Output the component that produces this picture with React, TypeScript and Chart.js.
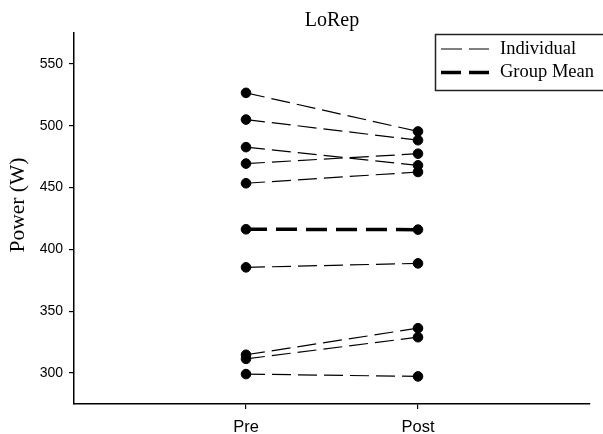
import React, { useEffect, useRef } from "react";
import { Chart, registerables } from "chart.js";

Chart.register(...registerables);

const TITLE = "LoRep";
const Y_TITLE = "Power (W)";
const CATEGORIES = ["Pre", "Post"];
const CATEGORY_X = [1, 2];
const Y_TICKS = [300, 350, 400, 450, 500, 550];
const PRE = [526.6, 505.0, 482.7, 469.4, 453.5, 385.5, 314.8, 311.5, 299.2];
const POST = [495.4, 488.3, 468.0, 477.4, 462.6, 388.7, 336.3, 329.0, 297.3];
const MEAN = [416.3, 416.0];
const LEGEND_LABELS = ["Individual", "Group Mean"];

const SERIF = "'Liberation Serif', 'Times New Roman', serif";
const SANS = "'Liberation Sans', Arial, sans-serif";

const legendPlugin = {
  id: "boxLegend",
  afterDraw(chart: any) {
    const ctx = chart.ctx;
    ctx.save();
    ctx.strokeStyle = "#222";
    ctx.lineWidth = 1.5;
    ctx.setLineDash([]);
    ctx.strokeRect(435.5, 34.5, 200, 56);
    const rows = [
      { y: 49, w: 1.2, dash: [21, 7] },
      { y: 72.5, w: 3.5, dash: [20, 8] },
    ];
    rows.forEach((r, i) => {
      ctx.beginPath();
      ctx.lineWidth = r.w;
      ctx.setLineDash(r.dash);
      ctx.strokeStyle = "#000";
      ctx.moveTo(441, r.y);
      ctx.lineTo(489, r.y);
      ctx.stroke();
      ctx.setLineDash([]);
      ctx.fillStyle = "#000";
      ctx.font = `18.5px ${SERIF}`;
      ctx.textBaseline = "middle";
      ctx.textAlign = "left";
      ctx.fillText(LEGEND_LABELS[i], 500, r.y);
    });
    ctx.restore();
  },
};

const yTitlePlugin = {
  id: "yTitle",
  afterDraw(chart: any) {
    const ctx = chart.ctx;
    ctx.save();
    ctx.translate(18, 205);
    ctx.rotate(-Math.PI / 2);
    ctx.fillStyle = "#000";
    ctx.font = `21.5px ${SERIF}`;
    ctx.textAlign = "center";
    ctx.textBaseline = "middle";
    ctx.fillText(Y_TITLE, 0, 0);
    ctx.restore();
  },
};

export default function App() {
  const ref = useRef<HTMLCanvasElement | null>(null);
  useEffect(() => {
    document.body.style.margin = "0";
    document.body.style.overflow = "hidden";
    const datasets: any[] = PRE.map((p, i) => ({
      label: LEGEND_LABELS[0],
      data: [
        { x: CATEGORY_X[0], y: p },
        { x: CATEGORY_X[1], y: POST[i] },
      ],
      borderColor: "#000",
      borderWidth: 1.2,
      borderDash: [19, 7],
      pointRadius: 4.8,
      pointBackgroundColor: "#000",
      pointBorderColor: "#000",
      pointBorderWidth: 1,
      showLine: true,
    }));
    datasets.push({
      label: LEGEND_LABELS[1],
      data: [
        { x: CATEGORY_X[0], y: MEAN[0] },
        { x: CATEGORY_X[1], y: MEAN[1] },
      ],
      borderColor: "#000",
      borderWidth: 3.5,
      borderDash: [21, 9],
      pointRadius: 4.8,
      pointBackgroundColor: "#000",
      pointBorderColor: "#000",
      pointBorderWidth: 1,
      showLine: true,
    });
    const chart = new Chart(ref.current as HTMLCanvasElement, {
      type: "scatter",
      data: { datasets },
      plugins: [legendPlugin, yTitlePlugin],
      options: {
        animation: false,
        responsive: false,
        layout: { padding: { left: 0, right: 13, top: 0, bottom: 0 } },
        plugins: {
          legend: { display: false },
          tooltip: { enabled: false },
          title: {
            display: true,
            text: TITLE,
            fullSize: false,
            color: "#000",
            font: { family: SERIF, size: 20, weight: "normal" },
            padding: { top: 9, bottom: 0 },
          },
        },
        scales: {
          x: {
            type: "linear",
            min: 0,
            max: 3,
            afterFit(scale: any) {
              scale.height = 30;
            },
            afterBuildTicks(scale: any) {
              scale.ticks = CATEGORY_X.map((v) => ({ value: v }));
            },
            ticks: {
              color: "#000",
              font: { family: SANS, size: 16.5 },
              padding: 9,
              maxRotation: 0,
              callback: (v: any) => {
                const idx = CATEGORY_X.indexOf(Number(v));
                return idx >= 0 ? CATEGORIES[idx] : "";
              },
            },
            grid: {
              display: true,
              drawOnChartArea: false,
              drawTicks: true,
              tickLength: 5,
              color: "#000",
              lineWidth: 1.2,
            },
            border: { display: true, color: "#000", width: 1.5 },
          },
          y: {
            type: "linear",
            min: 275,
            max: 575,
            afterFit(scale: any) {
              scale.width = 74;
            },
            afterBuildTicks(scale: any) {
              scale.ticks = Y_TICKS.map((v) => ({ value: v }));
            },
            ticks: {
              color: "#000",
              font: { family: SANS, size: 14 },
              padding: 6,
            },
            grid: {
              display: true,
              drawOnChartArea: false,
              drawTicks: true,
              tickLength: 5,
              color: "#000",
              lineWidth: 1.2,
            },
            border: { display: true, color: "#000", width: 1.5 },
          },
        },
      },
    } as any);
    return () => chart.destroy();
  }, []);
  return (
    <div style={{ width: 603, height: 434, position: "relative" }}>
      <canvas ref={ref} width={603} height={434} />
    </div>
  );
}
